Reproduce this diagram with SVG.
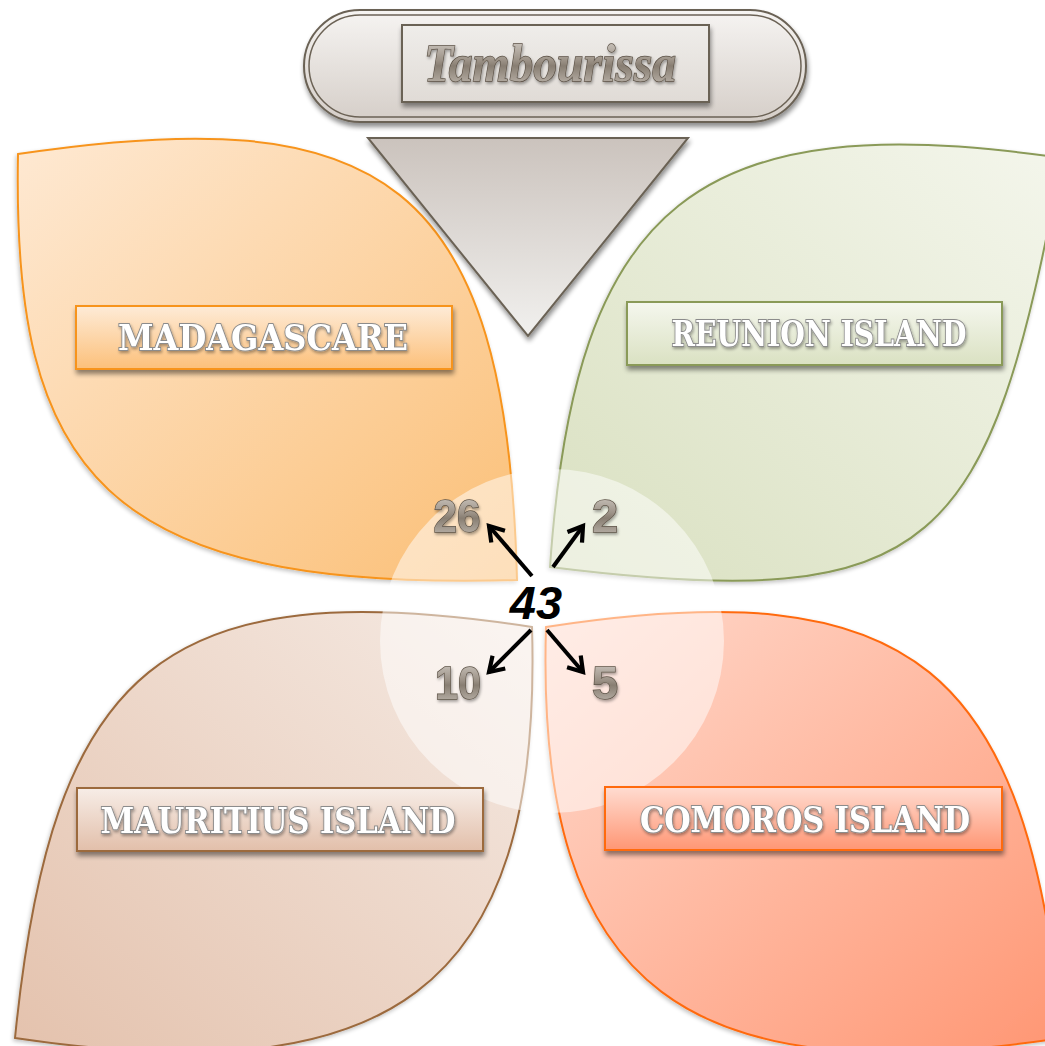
<svg xmlns="http://www.w3.org/2000/svg" width="1045" height="1046" viewBox="0 0 1045 1046">
<style>
.leaf{stroke-width:2;filter:url(#lshadow)}
.lbl{stroke-width:2;filter:url(#bshadow)}
.ltxt{font-family:"DejaVu Serif","Liberation Serif",serif;font-weight:bold;font-size:35px;fill:#ffffff;stroke:#8c8c8c;stroke-width:2;paint-order:stroke;text-anchor:middle;filter:url(#tshadow)}
.num{font-family:"Liberation Sans","Arial",sans-serif;font-weight:bold;font-size:47px;fill:url(#gMetal);stroke:#5e5448;stroke-width:1.4;paint-order:stroke;text-anchor:middle;filter:url(#tshadow)}
.arr{stroke:#000;stroke-width:4;fill:none;marker-end:url(#ah)}
</style>
<defs>
<linearGradient id="gMad" x1="0" y1="0" x2="1" y2="1"><stop offset="0" stop-color="#fee9d3"/><stop offset="1" stop-color="#fbbf76"/></linearGradient>
<linearGradient id="gReu" x1="1" y1="0" x2="0" y2="1"><stop offset="0" stop-color="#f4f6ec"/><stop offset="1" stop-color="#d9e0c0"/></linearGradient>
<linearGradient id="gMau" x1="1" y1="0" x2="0" y2="1"><stop offset="0" stop-color="#f5eae3"/><stop offset="1" stop-color="#e4c2ad"/></linearGradient>
<linearGradient id="gCom" x1="0" y1="0" x2="1" y2="1"><stop offset="0" stop-color="#ffdacd"/><stop offset="1" stop-color="#ff9673"/></linearGradient>
<linearGradient id="bMad" x1="0" y1="0" x2="0" y2="1"><stop offset="0" stop-color="#feebd7"/><stop offset="1" stop-color="#fcc07a"/></linearGradient>
<linearGradient id="bReu" x1="0" y1="0" x2="0" y2="1"><stop offset="0" stop-color="#f5f7ee"/><stop offset="1" stop-color="#dae1c2"/></linearGradient>
<linearGradient id="bMau" x1="0" y1="0" x2="0" y2="1"><stop offset="0" stop-color="#f7ede7"/><stop offset="1" stop-color="#e2bfaa"/></linearGradient>
<linearGradient id="bCom" x1="0" y1="0" x2="0" y2="1"><stop offset="0" stop-color="#ffdcd1"/><stop offset="1" stop-color="#ff9674"/></linearGradient>
<linearGradient id="gPill" x1="0" y1="0" x2="0" y2="1"><stop offset="0" stop-color="#f6f4f2"/><stop offset="1" stop-color="#d5cec8"/></linearGradient>
<linearGradient id="gInner" x1="0" y1="0" x2="0" y2="1"><stop offset="0" stop-color="#efedea"/><stop offset="1" stop-color="#e0dbd6"/></linearGradient>
<linearGradient id="gTri" x1="0" y1="0" x2="0" y2="1"><stop offset="0" stop-color="#cbc3bd"/><stop offset="1" stop-color="#f1f0ee"/></linearGradient>
<linearGradient id="gMetal" x1="0" y1="0" x2="0" y2="1"><stop offset="0" stop-color="#dcd7d1"/><stop offset="0.45" stop-color="#9d9388"/><stop offset="0.55" stop-color="#887e72"/><stop offset="1" stop-color="#cbc4bc"/></linearGradient>
<filter id="lshadow" x="-5%" y="-5%" width="110%" height="110%"><feGaussianBlur in="SourceAlpha" stdDeviation="2"/><feOffset dx="-1" dy="2"/><feComponentTransfer><feFuncA type="linear" slope="0.25"/></feComponentTransfer><feMerge><feMergeNode/><feMergeNode in="SourceGraphic"/></feMerge></filter>
<filter id="bshadow" x="-10%" y="-20%" width="120%" height="150%"><feGaussianBlur in="SourceAlpha" stdDeviation="2.5"/><feOffset dx="1" dy="4"/><feComponentTransfer><feFuncA type="linear" slope="0.45"/></feComponentTransfer><feMerge><feMergeNode/><feMergeNode in="SourceGraphic"/></feMerge></filter>
<filter id="tshadow" x="-20%" y="-30%" width="140%" height="160%"><feGaussianBlur in="SourceAlpha" stdDeviation="1.5"/><feOffset dx="1" dy="2"/><feComponentTransfer><feFuncA type="linear" slope="0.35"/></feComponentTransfer><feMerge><feMergeNode/><feMergeNode in="SourceGraphic"/></feMerge></filter>
<marker id="ah" viewBox="0 0 22 22" refX="17" refY="11" markerWidth="22" markerHeight="22" markerUnits="userSpaceOnUse" orient="auto"><path d="M3,2 L17,11 L3,20" fill="none" stroke="#000" stroke-width="4.2" stroke-linejoin="miter"/></marker>
</defs>

<g id="leaf-madagascare">
<path class="leaf" d="M18,154 C380,100 507,175 517,580 C100,592 12,470 18,154 Z" fill="url(#gMad)" stroke="#f7941d"/>
</g>
<g id="leaf-reunion">
<path class="leaf" d="M550,567 C575,202 697,105 1062,158 C989,548 940,616 550,567 Z" fill="url(#gReu)" stroke="#8a9a58"/>
</g>
<g id="leaf-mauritius">
<path class="leaf" d="M532,627 C162,570 52,668 15,1038 C385,1093 543,997 532,627 Z" fill="url(#gMau)" stroke="#9c6a3e"/>
</g>
<g id="leaf-comoros">
<path class="leaf" d="M546,627 C916,570 1026,668 1063,1038 C693,1093 535,997 546,627 Z" fill="url(#gCom)" stroke="#ff6a10"/>
</g>

<g id="center-circle">
<circle cx="552" cy="641" r="172" fill="#ffffff" fill-opacity="0.5"/>
</g>

<g id="triangle">
<path d="M368,138 L688,138 L528,336 Z" fill="url(#gTri)" stroke="#6b6255" stroke-width="2" filter="url(#bshadow)"/>
</g>

<g id="title-tambourissa">
<rect x="304" y="10" width="502" height="112" rx="56" ry="56" fill="url(#gPill)" stroke="#6b6255" stroke-width="2" filter="url(#bshadow)"/>
<rect x="309" y="15" width="492" height="102" rx="51" ry="51" fill="none" stroke="#6b6255" stroke-width="1.5"/>
<rect x="402" y="25" width="307" height="77" fill="url(#gInner)" stroke="#6b6255" stroke-width="2" filter="url(#bshadow)"/>
<text x="550" y="81" font-family="Liberation Serif, DejaVu Serif, serif" font-weight="bold" font-style="italic" font-size="53" text-anchor="middle" textLength="252" lengthAdjust="spacingAndGlyphs" fill="url(#gMetal)" stroke="#5a5045" stroke-width="1.4" paint-order="stroke" filter="url(#tshadow)">Tambourissa</text>
</g>

<g id="label-madagascare">
<rect class="lbl" x="76" y="306" width="376" height="63" fill="url(#bMad)" stroke="#f7941d"/>
<text class="ltxt" x="263" y="350" textLength="290" lengthAdjust="spacingAndGlyphs">MADAGASCARE</text>
</g>
<g id="label-reunion">
<rect class="lbl" x="627" y="302" width="375" height="63" fill="url(#bReu)" stroke="#8a9a58"/>
<text class="ltxt" x="819" y="346" textLength="295" lengthAdjust="spacingAndGlyphs">REUNION ISLAND</text>
</g>
<g id="label-mauritius">
<rect class="lbl" x="77" y="788" width="406" height="63" fill="url(#bMau)" stroke="#9c6a3e"/>
<text class="ltxt" x="278" y="833" textLength="355" lengthAdjust="spacingAndGlyphs">MAURITIUS ISLAND</text>
</g>
<g id="label-comoros">
<rect class="lbl" x="605" y="787" width="397" height="63" fill="url(#bCom)" stroke="#ff6a10"/>
<text class="ltxt" x="805" y="832" textLength="330" lengthAdjust="spacingAndGlyphs">COMOROS ISLAND</text>
</g>

<g id="connectors">
<line class="arr" x1="532" y1="576" x2="489" y2="526"/>
<line class="arr" x1="553" y1="567" x2="583" y2="526"/>
<line class="arr" x1="531" y1="630" x2="489" y2="672"/>
<line class="arr" x1="547" y1="630" x2="583" y2="672"/>
</g>

<g id="node-43">
<text x="536" y="619" font-family="Liberation Sans, Arial, sans-serif" font-weight="bold" font-style="italic" font-size="47" text-anchor="middle" fill="#000">43</text>
</g>
<g id="node-26"><text class="num" x="457" y="532" textLength="47" lengthAdjust="spacingAndGlyphs">26</text></g>
<g id="node-2"><text class="num" x="605" y="532">2</text></g>
<g id="node-10"><text class="num" x="458" y="699" textLength="46" lengthAdjust="spacingAndGlyphs">10</text></g>
<g id="node-5"><text class="num" x="605" y="699">5</text></g>
</svg>
